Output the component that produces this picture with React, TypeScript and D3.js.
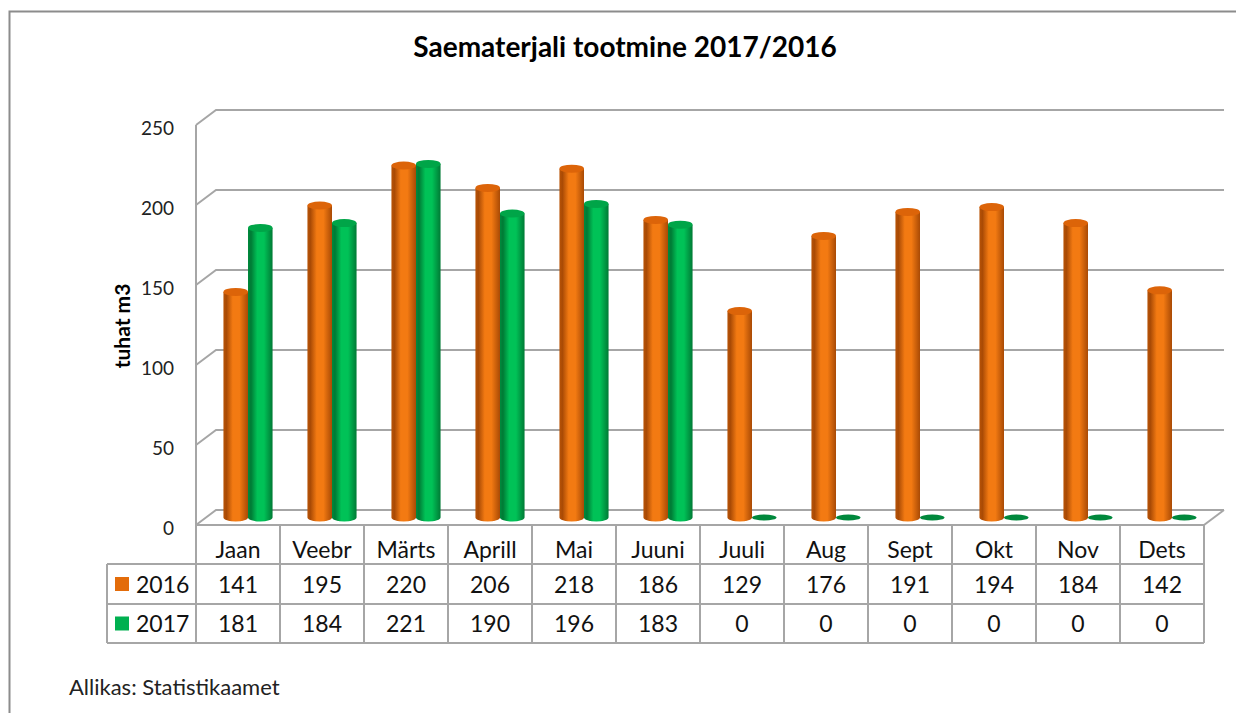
import { useEffect, useRef } from "react";
import * as d3 from "d3";

const months = ["Jaan", "Veebr", "Märts", "Aprill", "Mai", "Juuni", "Juuli", "Aug", "Sept", "Okt", "Nov", "Dets"];
const seriesNames = ["2016", "2017"];
const values2016 = [141, 195, 220, 206, 218, 186, 129, 176, 191, 194, 184, 142];
const values2017 = [181, 184, 221, 190, 196, 183, 0, 0, 0, 0, 0, 0];
const yTicks = [0, 50, 100, 150, 200, 250];

const FONT = "Lato, 'Open Sans', sans-serif";

const palette = [
  { dark: "#a94a05", mid: "#f37a12", edge: "#b85306", cap: "#dc6409", flat: "#c45a08" },
  { dark: "#007a35", mid: "#00c257", edge: "#008a3d", cap: "#00a548", flat: "#00883c" }
];

export default function App(): JSX.Element {
  const svgRef = useRef<SVGSVGElement | null>(null);

  useEffect(() => {
    const svg = d3.select(svgRef.current);
    svg.selectAll("*").remove();

    const width = 1236;
    const height = 713;
    const depthX = 20;
    const depthY = -15;

    const left = 196;
    const right = 1204;
    const floorY = 525;

    const yFront = d3.scaleLinear().domain([0, 250]).range([floorY, 125]);
    const yMid = d3.scaleLinear().domain([0, 250]).range([floorY + depthY / 2, 125 + depthY / 2]);
    const yBack = d3.scaleLinear().domain([0, 250]).range([floorY + depthY, 125 + depthY]);
    const x = d3.scaleBand<string>().domain(months).range([left, right]);
    const xInner = d3.scaleBand<string>().domain(seriesNames).range([0, x.bandwidth()]).paddingOuter(0.71);

    svg.append("rect").attr("width", width).attr("height", height).attr("fill", "#ffffff");

    // outer chart border (right and bottom run off the picture)
    svg
      .append("path")
      .attr("d", `M9.5,${height + 5} L9.5,11.5 L${width + 5},11.5`)
      .attr("fill", "none")
      .attr("stroke", "#8c8c8c")
      .attr("stroke-width", 2);

    const defs = svg.append("defs");
    palette.forEach((p, i) => {
      const g = defs.append("linearGradient").attr("id", `cyl${i}`).attr("x1", 0).attr("x2", 1).attr("y1", 0).attr("y2", 0);
      g.append("stop").attr("offset", "0%").attr("stop-color", p.edge);
      g.append("stop").attr("offset", "12%").attr("stop-color", p.dark);
      g.append("stop").attr("offset", "38%").attr("stop-color", p.mid);
      g.append("stop").attr("offset", "65%").attr("stop-color", p.mid);
      g.append("stop").attr("offset", "100%").attr("stop-color", p.dark);
    });

    svg
      .append("text")
      .attr("x", 625)
      .attr("y", 57)
      .attr("text-anchor", "middle")
      .attr("font-family", FONT)
      .attr("font-weight", "bold")
      .attr("font-size", 28)
      .text("Saematerjali tootmine 2017/2016");

    // grid: back wall and side wall
    const grid = svg.append("g").attr("stroke", "#a6a6a6").attr("stroke-width", 2).attr("fill", "none");
    yTicks.forEach((t) => {
      grid
        .append("path")
        .attr("d", `M${left},${yFront(t)} L${left + depthX},${yBack(t)} L${right + depthX},${yBack(t)}`);
    });
    grid.append("line").attr("x1", left).attr("x2", left).attr("y1", yFront(250)).attr("y2", floorY);
    grid.append("line").attr("x1", right).attr("x2", right + depthX).attr("y1", floorY).attr("y2", yBack(0));

    svg
      .append("g")
      .selectAll("text")
      .data(yTicks)
      .join("text")
      .attr("x", 174)
      .attr("y", (t) => yFront(t) + 10)
      .attr("text-anchor", "end")
      .attr("font-family", FONT)
      .attr("font-size", 19)
      .attr("fill", "#222")
      .text((t) => String(t));

    svg
      .append("text")
      .attr("transform", "translate(130,326) rotate(-90)")
      .attr("text-anchor", "middle")
      .attr("font-family", FONT)
      .attr("font-weight", "bold")
      .attr("font-size", 21)
      .text("tuhat m3");

    // cylinders
    const allSeries = [values2016, values2017];
    const bars = svg.append("g");
    months.forEach((m, i) => {
      allSeries.forEach((vals, s) => {
        const v = vals[i];
        const x0 = (x(m) ?? 0) + depthX / 2 + (xInner(seriesNames[s]) ?? 0);
        const w = xInner.bandwidth();
        const rx = w / 2;
        const ry = 4;
        const base = yMid(0);
        const cx = x0 + rx;
        if (v === 0) {
          bars.append("ellipse").attr("cx", cx).attr("cy", base).attr("rx", rx).attr("ry", ry - 1).attr("fill", palette[s].flat);
          return;
        }
        const top = yMid(v);
        bars
          .append("path")
          .attr("d", `M${x0},${top} L${x0},${base} A${rx},${ry} 0 0 0 ${x0 + w},${base} L${x0 + w},${top} Z`)
          .attr("fill", `url(#cyl${s})`);
        bars.append("ellipse").attr("cx", cx).attr("cy", top).attr("rx", rx).attr("ry", ry).attr("fill", palette[s].cap);
      });
    });

    // data table
    const rowTop = [floorY, 564, 604];
    const rowBottom = 643;
    const legendLeft = 107;
    const table = svg.append("g").attr("stroke", "#a6a6a6").attr("stroke-width", 2).attr("fill", "none");
    table.append("line").attr("x1", left).attr("x2", left).attr("y1", floorY).attr("y2", rowBottom);
    months.forEach((m) => {
      const xe = (x(m) ?? 0) + x.bandwidth();
      table.append("line").attr("x1", xe).attr("x2", xe).attr("y1", floorY).attr("y2", rowBottom);
    });
    table.append("line").attr("x1", left).attr("x2", right).attr("y1", floorY).attr("y2", floorY);
    table.append("line").attr("x1", legendLeft).attr("x2", right).attr("y1", rowTop[1]).attr("y2", rowTop[1]);
    table.append("line").attr("x1", legendLeft).attr("x2", right).attr("y1", rowTop[2]).attr("y2", rowTop[2]);
    table.append("line").attr("x1", legendLeft).attr("x2", right).attr("y1", rowBottom).attr("y2", rowBottom);
    table.append("line").attr("x1", legendLeft).attr("x2", legendLeft).attr("y1", rowTop[1]).attr("y2", rowBottom);

    const cellText = svg.append("g").attr("font-family", FONT).attr("font-size", 23).attr("fill", "#111").attr("text-anchor", "middle");
    months.forEach((m, i) => {
      const cx = (x(m) ?? 0) + x.bandwidth() / 2;
      cellText.append("text").attr("x", cx).attr("y", 558).text(m);
      cellText.append("text").attr("x", cx).attr("y", 593).text(String(values2016[i]));
      cellText.append("text").attr("x", cx).attr("y", 632).text(String(values2017[i]));
    });

    seriesNames.forEach((name, s) => {
      const yc = (rowTop[s + 1] + (s === 0 ? rowTop[2] : rowBottom)) / 2;
      svg.append("rect").attr("x", 115).attr("y", yc - 7).attr("width", 14).attr("height", 14).attr("fill", s === 0 ? "#e36c0a" : "#00b050");
      svg
        .append("text")
        .attr("x", 136)
        .attr("y", s === 0 ? 593 : 632)
        .attr("font-family", FONT)
        .attr("font-size", 23)
        .attr("fill", "#111")
        .text(name);
    });

    svg
      .append("text")
      .attr("x", 69)
      .attr("y", 695)
      .attr("font-family", FONT)
      .attr("font-size", 22)
      .attr("fill", "#222")
      .text("Allikas: Statistikaamet");
  }, []);

  return (
    <svg
      ref={svgRef}
      width={1236}
      height={713}
      viewBox="0 0 1236 713"
      style={{ position: "absolute", left: 0, top: 0 }}
      role="img"
      aria-label="Saematerjali tootmine 2017/2016"
    />
  );
}
